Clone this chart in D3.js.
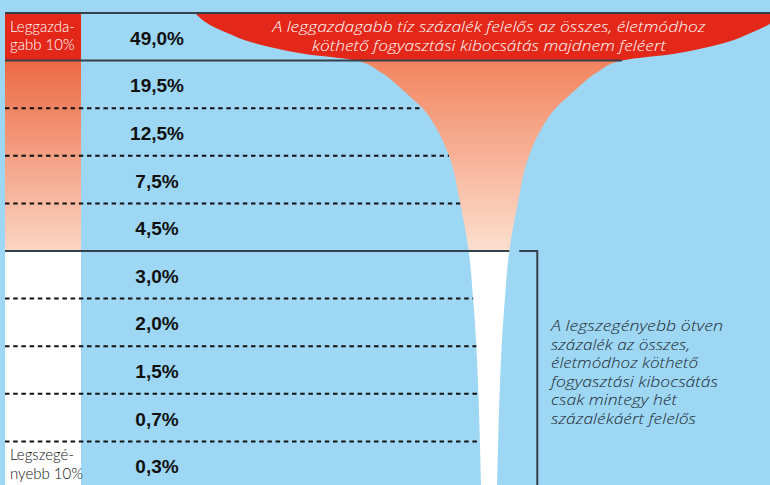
<!DOCTYPE html>
<html><head><meta charset="utf-8">
<script src="https://cdn.jsdelivr.net/npm/d3@7"></script>
<style>html,body{margin:0;padding:0;background:#9dd7f3;}svg{display:block;}</style>
</head><body>
<script>
// ---- data ----
const categories = ["Leggazdagabb 10%","9. tized","8. tized","7. tized","6. tized","5. tized","4. tized","3. tized","2. tized","Legszegényebb 10%"];
const shares = [49.0, 19.5, 12.5, 7.5, 4.5, 3.0, 2.0, 1.5, 0.7, 0.3];
const groups = ["top","upper","upper","upper","upper","bottom","bottom","bottom","bottom","bottom"];
const sideLabels = [["Leggazda-","gabb 10%"],[],[],[],[],[],[],[],[],["Legszegé-","nyebb 10%"]];
const topNote = ["A leggazdagabb tíz százalék felelős az összes, életmódhoz","köthető fogyasztási kibocsátás majdnem feléert"];
const bottomNote = ["A legszegényebb ötven","százalék az összes,","életmódhoz köthető","fogyasztási kibocsátás","csak mintegy hét","százalékáért felelős"];
// funnel profile: position in rows (0 = top) and half width (% of top width)
const funnelRow  = [0, 0.252, 0.462, 0.567, 0.735, 0.84, 0.882, 0.924, 1.0, 1.24, 1.555, 1.83, 2, 2.39, 3, 4, 5, 6, 7, 8, 9, 10];
const funnelHalf = [100, 94.9, 87.4, 83.3, 73.1, 64.6, 60.2, 53.7, 45.2, 37.0, 30.5, 25.6, 22.6, 18.2, 13.6, 9.8, 6.9, 5.4, 4.3, 3.6, 3.1, 2.7];

// ---- layout ----
const W = 770, H = 485;
const topY = 13, rowH = 47.6;
const colX0 = 5, colX1 = 81, labelX = 157, funnelCx = 489;
const blue = "#9dd7f3", red = "#e3281a", lineCol = "#34404a";
const topNoteWidths = [433, 354];
const bottomNoteWidths = [172, 139, 147, 167, 126, 145];

const svg = d3.select("body").append("svg").attr("width", W).attr("height", H);
const y = d3.scaleBand().domain(categories).range([topY, topY + rowH * categories.length]);
const rowY = d3.scaleLinear().domain([0, categories.length]).range([topY, topY + rowH * categories.length]);
const hw = d3.scaleLinear().domain([0, 100]).range([0, 294]);
const fmt = v => d3.format(".1f")(v).replace(".", ",") + "%";

svg.append("rect").attr("width", W).attr("height", H).attr("fill", blue);

const defs = svg.append("defs");
const fg = defs.append("linearGradient").attr("id", "funnelGrad").attr("gradientUnits", "userSpaceOnUse")
  .attr("x1", 0).attr("x2", 0).attr("y1", rowY(0)).attr("y2", rowY(10));
const o1 = (rowY(1) - rowY(0)) / (rowY(10) - rowY(0));
const o5 = (rowY(5) - rowY(0)) / (rowY(10) - rowY(0));
[[0, red],[o1, red],[o1, "#f2845f"],[o5, "#fcdfcf"],[o5, "#ffffff"],[1, "#ffffff"]]
  .forEach(([o, c]) => fg.append("stop").attr("offset", o).attr("stop-color", c));
const cg = defs.append("linearGradient").attr("id", "colGrad").attr("x1", 0).attr("x2", 0).attr("y1", 0).attr("y2", 1);
cg.append("stop").attr("offset", 0).attr("stop-color", "#ec6943");
cg.append("stop").attr("offset", 1).attr("stop-color", "#fbd6c4");

// left column cells
svg.append("g").selectAll("rect").data(categories).join("rect")
  .attr("x", colX0).attr("width", colX1 - colX0)
  .attr("y", d => y(d)).attr("height", y.bandwidth() + 0.5)
  .attr("fill", (d, i) => groups[i] === "top" ? red : groups[i] === "upper" ? "none" : "#ffffff");
const upIdx = groups.map((g, i) => g === "upper" ? i : -1).filter(i => i >= 0);
svg.append("rect").attr("x", colX0).attr("width", colX1 - colX0)
  .attr("y", y(categories[upIdx[0]])).attr("height", y(categories[upIdx[upIdx.length - 1]]) + y.bandwidth() - y(categories[upIdx[0]]))
  .attr("fill", "url(#colGrad)");

// funnel
const prof = funnelRow.map((r, i) => ({ r, h: funnelHalf[i] }));
const area = d3.area().curve(d3.curveMonotoneY)
  .y(d => rowY(d.r)).x0(d => funnelCx - hw(d.h)).x1(d => funnelCx + hw(d.h));
svg.append("path").datum(prof).attr("d", area).attr("fill", "url(#funnelGrad)");

const halfAt = r => { const i = funnelRow.indexOf(r); return hw(funnelHalf[i]); };

// separators
const bounds = d3.range(0, categories.length);
const isSolid = b => b === 0 || groups[b] !== groups[b - 1];
svg.append("g").selectAll("line").data(bounds).join("line")
  .attr("x1", colX0)
  .attr("x2", b => b === 0 ? W : (isSolid(b) ? funnelCx + halfAt(b) : funnelCx - halfAt(b)))
  .attr("y1", b => rowY(b)).attr("y2", b => rowY(b))
  .attr("stroke", b => isSolid(b) ? lineCol : "#111")
  .attr("stroke-width", 2)
  .attr("stroke-dasharray", b => isSolid(b) ? null : "4.5,3.7");

// bracket for poorest half
const b5 = groups.indexOf("bottom");
const bx = funnelCx + halfAt(b5);
svg.append("path").attr("d", `M${bx + 10},${rowY(b5)}H${bx + 28}V${H + 5}`)
  .attr("fill", "none").attr("stroke", lineCol).attr("stroke-width", 2);

// value labels
svg.append("g").selectAll("text").data(shares).join("text")
  .attr("x", labelX).attr("y", (d, i) => y(categories[i]) + y.bandwidth() / 2 + 8)
  .attr("text-anchor", "middle")
  .attr("font-family", "Liberation Sans, Arial, sans-serif").attr("font-weight", "bold").attr("font-size", 19)
  .attr("fill", "#111").text(fmt);

// side labels
sideLabels.forEach((lines, i) => {
  lines.forEach((t, j) => {
    svg.append("text").attr("x", 10)
      .attr("y", y(categories[i]) + y.bandwidth() / 2 - 5 + j * 18.5)
      .attr("font-family", "Lato, sans-serif").attr("font-weight", 300).attr("font-size", 15)
      .attr("fill", groups[i] === "top" ? "#fff" : "#111").text(t);
  });
});

// notes
topNote.forEach((t, j) => {
  svg.append("text").attr("x", funnelCx - topNoteWidths[j] / 2).attr("y", 32 + j * 18.5)
    .attr("textLength", topNoteWidths[j]).attr("lengthAdjust", "spacingAndGlyphs")
    .attr("font-family", "Open Sans, sans-serif").attr("font-style", "italic").attr("font-weight", 300).attr("font-size", 15)
    .attr("fill", "#fff").text(t);
});
bottomNote.forEach((t, j) => {
  svg.append("text").attr("x", 551).attr("y", 331 + j * 18.6)
    .attr("textLength", bottomNoteWidths[j]).attr("lengthAdjust", "spacingAndGlyphs")
    .attr("font-family", "Open Sans, sans-serif").attr("font-style", "italic").attr("font-weight", 300).attr("font-size", 15)
    .attr("fill", "#1c2630").text(t);
});
</script>
</body></html>
